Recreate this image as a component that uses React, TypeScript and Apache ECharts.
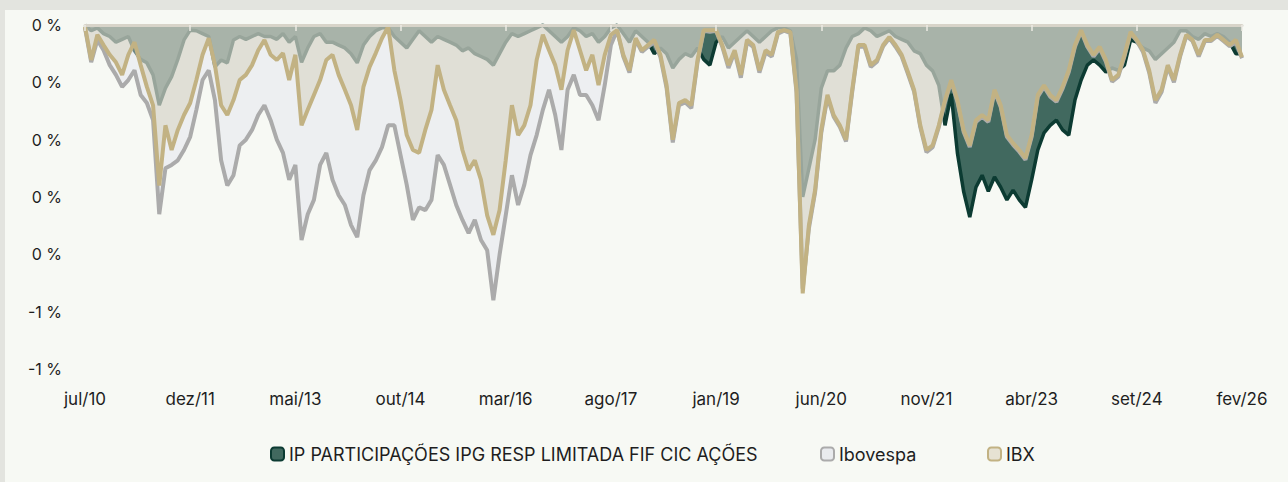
import React, { useEffect, useRef } from "react";
import * as echarts from "echarts";

const MONTH_ABBR = ["jan", "fev", "mar", "abr", "mai", "jun", "jul", "ago", "set", "out", "nov", "dez"];
const START_YEAR = 2010;
const START_MONTH = 6; // jul
const N_MONTHS = 188; // jul/10 .. fev/26

const categories: string[] = [];
for (let i = 0; i < N_MONTHS; i++) {
  const t = START_MONTH + i;
  const y = START_YEAR + Math.floor(t / 12);
  categories.push(`${MONTH_ABBR[t % 12]}/${String(y % 100).padStart(2, "0")}`);
}

const FUND_NAME = "IP PARTICIPAÇÕES IPG RESP LIMITADA FIF CIC AÇÕES";
const IBOV_NAME = "Ibovespa";
const IBX_NAME = "IBX";

const fundValues = [
  0, -0.01, -0.005, -0.015, -0.02, -0.03, -0.025, -0.02, -0.045, -0.06, -0.066, -0.087, -0.14, -0.11, -0.09, -0.06,
  -0.026, -0.009, -0.01, -0.015, -0.02, -0.073, -0.061, -0.066, -0.026, -0.02, -0.025, -0.02, -0.015, -0.02, -0.02, -0.025,
  -0.015, -0.03, -0.02, -0.065, -0.04, -0.02, -0.015, -0.03, -0.03, -0.035, -0.04, -0.05, -0.066, -0.035, -0.02, -0.01,
  -0.005, -0.005, -0.02, -0.03, -0.04, -0.025, -0.01, -0.02, -0.03, -0.02, -0.025, -0.03, -0.035, -0.045, -0.04, -0.05,
  -0.055, -0.06, -0.07, -0.05, -0.03, -0.015, -0.02, -0.015, -0.01, -0.005, 0, -0.01, -0.02, -0.03, -0.02, -0.005,
  -0.01, -0.02, -0.015, -0.03, -0.02, -0.005, 0, -0.015, -0.03, -0.01, -0.02, -0.03, -0.05, -0.04, -0.05, -0.075,
  -0.06, -0.05, -0.055, -0.04, -0.06, -0.07, -0.03, -0.02, -0.04, -0.03, -0.02, -0.01, -0.02, -0.03, -0.02, -0.01,
  -0.005, -0.005, -0.01, -0.06, -0.3, -0.25, -0.2, -0.11, -0.08, -0.08, -0.07, -0.04, -0.02, -0.015,
  -0.005, -0.01, -0.02, -0.015, -0.01, -0.02, -0.025, -0.03, -0.045, -0.05, -0.07, -0.08, -0.105, -0.175, -0.12, -0.223,
  -0.29, -0.335, -0.283, -0.262, -0.29, -0.265, -0.283, -0.305, -0.288, -0.305, -0.318, -0.27, -0.218, -0.188, -0.175, -0.166,
  -0.183, -0.192, -0.131, -0.096, -0.07, -0.061, -0.07, -0.082, -0.075, -0.079, -0.07, -0.026, -0.03, -0.04, -0.045, -0.06,
  -0.05, -0.04, -0.03, -0.01, -0.01, -0.02, -0.025, -0.015, -0.02, -0.015, -0.02, -0.03, -0.05, -0.05,
];

const ibovValues = [
  -0.005, -0.065, -0.026, -0.044, -0.07, -0.087, -0.108, -0.096, -0.079, -0.122, -0.136, -0.166, -0.33, -0.25, -0.244, -0.236,
  -0.218, -0.195, -0.148, -0.096, -0.079, -0.131, -0.236, -0.28, -0.262, -0.21, -0.2, -0.183, -0.157, -0.14, -0.166, -0.2,
  -0.223, -0.27, -0.244, -0.375, -0.33, -0.305, -0.244, -0.223, -0.27, -0.297, -0.314, -0.349, -0.37, -0.297, -0.253, -0.236,
  -0.213, -0.175, -0.175, -0.227, -0.279, -0.34, -0.318, -0.323, -0.305, -0.227, -0.244, -0.279, -0.314, -0.34, -0.363, -0.34,
  -0.375, -0.393, -0.48, -0.401, -0.332, -0.262, -0.314, -0.279, -0.227, -0.192, -0.148, -0.113, -0.157, -0.218, -0.113, -0.087,
  -0.122, -0.122, -0.14, -0.166, -0.105, -0.035, -0.009, -0.055, -0.083, -0.026, -0.047, -0.038, -0.03, -0.056, -0.11, -0.205,
  -0.14, -0.135, -0.145, -0.065, -0.01, -0.012, -0.01, -0.038, -0.075, -0.047, -0.092, -0.03, -0.038, -0.083, -0.048, -0.055,
  -0.015, -0.01, -0.014, -0.118, -0.46, -0.355, -0.292, -0.188, -0.126, -0.16, -0.178, -0.203, -0.117, -0.038,
  -0.038, -0.073, -0.064, -0.037, -0.023, -0.038, -0.055, -0.085, -0.116, -0.178, -0.222, -0.213, -0.178, -0.134, -0.099, -0.134,
  -0.186, -0.213, -0.169, -0.16, -0.169, -0.116, -0.143, -0.195, -0.209, -0.221, -0.235, -0.195, -0.125, -0.108, -0.125, -0.134,
  -0.111, -0.082, -0.038, -0.011, -0.038, -0.055, -0.041, -0.064, -0.099, -0.09, -0.055, -0.014, -0.028, -0.047, -0.083, -0.136,
  -0.117, -0.073, -0.1, -0.055, -0.019, -0.028, -0.055, -0.028, -0.028, -0.019, -0.028, -0.037, -0.03, -0.058,
];

const ibxValues = [
  -0.003, -0.061, -0.017, -0.035, -0.052, -0.065, -0.087, -0.052, -0.03, -0.07, -0.108, -0.14, -0.28, -0.175, -0.218, -0.183,
  -0.157, -0.136, -0.096, -0.052, -0.023, -0.07, -0.14, -0.157, -0.131, -0.096, -0.087, -0.07, -0.044, -0.026, -0.052, -0.061,
  -0.049, -0.096, -0.052, -0.175, -0.148, -0.122, -0.096, -0.061, -0.052, -0.087, -0.113, -0.14, -0.183, -0.108, -0.073, -0.049,
  -0.023, -0.003, -0.079, -0.131, -0.192, -0.218, -0.223, -0.183, -0.148, -0.07, -0.113, -0.14, -0.166, -0.218, -0.253, -0.236,
  -0.27, -0.332, -0.366, -0.323, -0.236, -0.14, -0.192, -0.175, -0.14, -0.061, -0.017, -0.044, -0.07, -0.113, -0.044, -0.009,
  -0.044, -0.079, -0.052, -0.105, -0.052, -0.017, -0.009, -0.052, -0.079, -0.023, -0.044, -0.035, -0.026, -0.052, -0.105, -0.2,
  -0.136, -0.131, -0.14, -0.061, -0.009, -0.009, -0.009, -0.035, -0.07, -0.044, -0.087, -0.026, -0.035, -0.079, -0.044, -0.052,
  -0.012, -0.009, -0.012, -0.113, -0.468, -0.349, -0.288, -0.183, -0.122, -0.157, -0.175, -0.2, -0.113, -0.035,
  -0.035, -0.07, -0.061, -0.035, -0.021, -0.035, -0.052, -0.082, -0.113, -0.175, -0.218, -0.21, -0.175, -0.131, -0.096, -0.131,
  -0.183, -0.21, -0.166, -0.157, -0.166, -0.113, -0.14, -0.192, -0.206, -0.218, -0.232, -0.192, -0.122, -0.105, -0.122, -0.131,
  -0.108, -0.079, -0.035, -0.009, -0.035, -0.052, -0.038, -0.061, -0.096, -0.087, -0.052, -0.012, -0.026, -0.044, -0.079, -0.131,
  -0.113, -0.07, -0.096, -0.052, -0.017, -0.026, -0.052, -0.026, -0.026, -0.017, -0.026, -0.035, -0.026, -0.056,
];

const yTickFormatter = (v: number) => {
  const r = v < 0 ? -Math.round(-v + 1e-9) : Math.round(v + 1e-9);
  return `${r === 0 ? 0 : r} %`;
};

const FONT = "Inter, 'Noto Sans', sans-serif";

const legendBase = {
  top: 445,
  padding: 0,
  icon: "roundRect",
  itemWidth: 13,
  itemHeight: 13,
  textStyle: { fontFamily: FONT, fontSize: 18, color: "#1e1e1e" },
};

export default function App() {
  const ref = useRef<HTMLDivElement>(null);
  useEffect(() => {
    if (!ref.current) return;
    const chart = echarts.init(ref.current, null, { renderer: "svg" });
    chart.setOption({
      animation: false,
      backgroundColor: "transparent",
      grid: { left: 85, right: 46, top: 25, bottom: 113, containLabel: false },
      xAxis: [
        {
          type: "category",
          data: categories,
          boundaryGap: false,
          position: "bottom",
          axisLine: { show: false, onZero: false },
          axisTick: { show: false },
          splitLine: { show: false },
          axisLabel: {
            interval: 16,
            margin: 21,
            fontSize: 17,
            fontFamily: FONT,
            color: "#1e1e1e",
          },
        },
        {
          type: "category",
          data: categories,
          boundaryGap: false,
          position: "top",
          z: 10,
          axisLine: { show: true, onZero: false, lineStyle: { color: "#d8d4c9", width: 3 } },
          axisTick: { show: true, inside: true, interval: 16, length: 6, lineStyle: { color: "#ecebe5", width: 1.5 } },
          axisLabel: { show: false },
          splitLine: { show: false },
        },
      ],
      yAxis: {
        type: "value",
        min: -0.6,
        max: 0,
        interval: 0.1,
        axisLine: { show: false },
        axisTick: { show: false },
        splitLine: { show: false },
        axisLabel: {
          formatter: yTickFormatter,
          margin: 23,
          fontSize: 16,
          fontFamily: FONT,
          color: "#1e1e1e",
        },
      },
      legend: [
        {
          ...legendBase,
          left: 270,
          data: [{ name: FUND_NAME, itemStyle: { color: "#41695f", borderColor: "#0c3b32", borderWidth: 2 } }],
        },
        {
          ...legendBase,
          left: 820,
          data: [{ name: IBOV_NAME, itemStyle: { color: "#e9ebee", borderColor: "#ababab", borderWidth: 2 } }],
        },
        {
          ...legendBase,
          left: 987,
          data: [{ name: IBX_NAME, itemStyle: { color: "#e6e2d3", borderColor: "#c2b283", borderWidth: 2 } }],
        },
      ],
      series: [
        {
          name: FUND_NAME,
          type: "line",
          z: 2,
          xAxisIndex: 0,
          data: fundValues,
          symbol: "none",
          itemStyle: { color: "#0c3b32" },
          lineStyle: { color: "#0c3b32", width: 3.5 },
          areaStyle: { color: "#41695f", opacity: 1 },
        },
        {
          name: IBOV_NAME,
          type: "line",
          z: 3,
          xAxisIndex: 0,
          data: ibovValues,
          symbol: "none",
          itemStyle: { color: "#ababab" },
          lineStyle: { color: "#ababab", width: 4 },
          areaStyle: { color: "rgba(223,227,237,0.45)", opacity: 1 },
        },
        {
          name: IBX_NAME,
          type: "line",
          z: 4,
          xAxisIndex: 0,
          data: ibxValues,
          symbol: "none",
          itemStyle: { color: "#c2b283" },
          lineStyle: { color: "#c2b283", width: 4 },
          areaStyle: { color: "rgba(209,203,181,0.45)", opacity: 1 },
        },
      ],
    });
    return () => chart.dispose();
  }, []);

  return (
    <div style={{ position: "fixed", left: 0, top: 0, width: 1288, height: 482, background: "#e3e4df" }}>
      <div style={{ position: "absolute", left: 5, top: 10, right: 0, bottom: 0, background: "#f7f9f4" }} />
      <div ref={ref} style={{ position: "absolute", left: 0, top: 0, width: 1288, height: 482 }} />
    </div>
  );
}
